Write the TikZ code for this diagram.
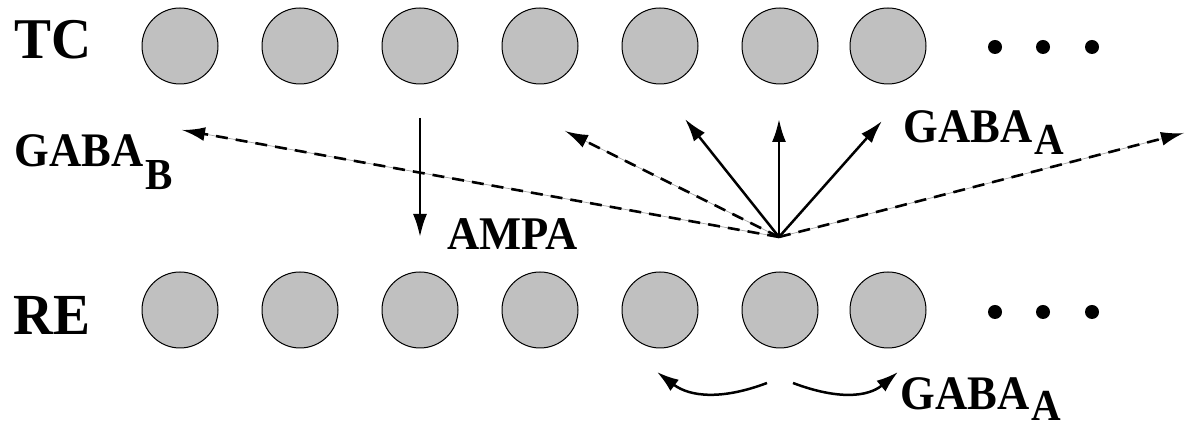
\documentclass[tikz,border=0pt]{standalone}
\usepackage{fontspec}
\setmainfont{Liberation Serif}
\usetikzlibrary{arrows.meta}
\definecolor{cellgray}{RGB}{192,192,192}
\begin{document}
\begin{tikzpicture}[x=0.5pt,y=-0.5pt,
  cell/.style={circle, draw=black, line width=0.5pt, fill=cellgray, minimum size=38pt, inner sep=0pt},
  dotn/.style={circle, fill=black, minimum size=7pt, inner sep=0pt},
  big/.style={anchor=base west, inner sep=0pt, font=\fontsize{27.7}{30}\selectfont\bfseries},
  lbl/.style={anchor=base west, inner sep=0pt, font=\fontsize{22.3}{24}\selectfont\bfseries},
  solidarr/.style={line width=1.25pt, -{Latex[length=11.5pt,width=7pt]}},
  dasharr/.style={line width=1.3pt, dash pattern=on 6pt off 4pt, -{Latex[length=11.5pt,width=7pt]}},
  thinline/.style={line width=0.35pt, draw=black!35},
  curvarr/.style={line width=1.25pt, -{Latex[length=11pt,width=7pt]}}]
\useasboundingbox (0,0) rectangle (1185,431);
% row labels
\node[big] (TC) at (14,59) {\scalebox{1}[1.04]{TC}};
\node[big] (RE) at (13,335) {\scalebox{1}[1.05]{RE}};
% cell rows
\foreach \i/\x in {1/180,2/300,3/420,4/540,5/660,6/780,7/888}{
  \node[cell] (tc\i) at (\x,46) {};
  \node[cell] (re\i) at (\x,310) {};
}
\foreach \i/\x in {1/995,2/1043,3/1092}{
  \node[dotn] (tcd\i) at (\x,47) {};
  \node[dotn] (red\i) at (\x,312) {};
}
% labels
\node[lbl] (gabab) at (14,167) {\scalebox{1}[1.08]{GABA\kern1pt\raisebox{-10.6pt}{\fontsize{20.5}{22}\selectfont B}}};
\node[lbl] (ampa) at (447,250) {\scalebox{1}[1.05]{AMPA}};
\node[lbl] (gabaa1) at (903,143) {\scalebox{1}[1.08]{GABA\kern1pt\raisebox{-5.5pt}{\fontsize{20.5}{22}\selectfont A}}};
\node[lbl] (gabaa2) at (900,410) {\scalebox{1}[1.08]{GABA\kern1pt\raisebox{-5pt}{\fontsize{20.5}{22}\selectfont A}}};
% coordinates
\coordinate (S) at (779,237);
\coordinate (tB) at (182,130);
\coordinate (tL) at (565,131);
\coordinate (t1) at (685,119);
\coordinate (t2) at (779,119);
\coordinate (t3) at (882,121);
\coordinate (tR) at (1184,133);
\coordinate (a1) at (420,118);
\coordinate (a2) at (420,237);
\coordinate (cL1) at (767,383);
\coordinate (cL2) at (657,372);
\coordinate (cR1) at (793,383);
\coordinate (cR2) at (898,372);
% AMPA arrow
\draw[solidarr] (a1) -- (a2);
% dashed GABA_B arrows
\foreach \t in {tB,tL,tR}{
  \draw[thinline] (S) -- (\t);
  \draw[dasharr] (S) -- (\t);
}
% solid GABA_A arrows
\foreach \t in {t1,t2,t3}{
  \draw[solidarr] (S) -- (\t);
}
% RE-RE curved arrows
\draw[curvarr] (cL1) .. controls (722,400) and (690,397) .. (cL2);
\draw[curvarr] (cR1) .. controls (838,400) and (868,397) .. (cR2);
\end{tikzpicture}
\end{document}
